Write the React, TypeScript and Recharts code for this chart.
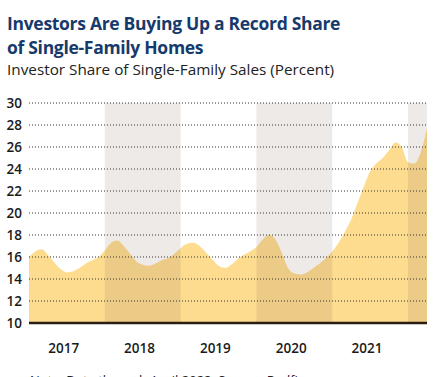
import React from "react";
import { AreaChart, Area, XAxis, YAxis, ReferenceArea, ReferenceLine } from "recharts";

// Monthly investor share of single-family sales, Jan 2017 .. Apr 2022
const months: number[] = Array.from({ length: 64 }, (_, i) => i);
const shareValues: number[] = [
  16.0, 16.5, 16.7, 16.2, 15.5, 14.9, 14.6, 14.7, 15.0, 15.4, 15.7, 16.0,
  16.6, 17.3, 17.5, 17.0, 16.3, 15.6, 15.3, 15.2, 15.4, 15.7, 15.9, 16.3,
  16.8, 17.2, 17.3, 17.0, 16.4, 15.8, 15.2, 15.0, 15.3, 15.8, 16.2, 16.5,
  16.9, 17.6, 18.0, 17.6, 16.4, 15.0, 14.5, 14.4, 14.6, 15.0, 15.4, 15.9,
  16.5, 17.3, 18.3, 19.4, 20.9, 22.4, 23.8, 24.5, 25.0, 25.7, 26.4, 26.0,
  24.6, 24.5, 25.5, 27.7,
];
const yearLabels: string[] = ["2017", "2018", "2019", "2020", "2021"];
const yearTickPositions: number[] = [5.5, 17.5, 29.5, 41.5, 53.5];
const yTicks: number[] = [10, 12, 14, 16, 18, 20, 22, 24, 26, 28, 30];
const shadedBands: [number, number][] = [
  [12, 24],
  [36, 48],
  [60, 63],
];

const data = months.map((m, i) => ({ m, share: shareValues[i] }));

const font = "'Open Sans', 'DejaVu Sans', sans-serif";

export default function App() {
  return (
    <div
      style={{
        position: "absolute",
        left: 0,
        top: 0,
        width: 442,
        height: 377,
        overflow: "hidden",
        background: "#fff",
        fontFamily: font,
      }}
    >
      <div
        style={{
          position: "absolute",
          left: 7,
          top: 11,
          fontSize: 17.5,
          fontWeight: 700,
          color: "#173a6c",
          lineHeight: "24px",
          letterSpacing: -0.3,
          whiteSpace: "nowrap",
        }}
      >
        Investors Are Buying Up a Record Share
        <br />
        of Single-Family Homes
      </div>
      <div
        style={{
          position: "absolute",
          left: 7,
          top: 59,
          fontSize: 15.3,
          color: "#222",
          whiteSpace: "nowrap",
        }}
      >
        Investor Share of Single-Family Sales (Percent)
      </div>
      <div style={{ position: "absolute", left: 0, top: 0 }}>
        <AreaChart
          width={442}
          height={377}
          data={data}
          margin={{ top: 103, right: 15, bottom: 0, left: 0 }}
        >
          <XAxis
            dataKey="m"
            type="number"
            domain={[0, 63]}
            ticks={yearTickPositions}
            tickFormatter={(v: number) => yearLabels[yearTickPositions.indexOf(v)] ?? ""}
            axisLine={false}
            tickLine={false}
            tickSize={0}
            tickMargin={20}
            height={54}
            interval={0}
            tick={{ fontSize: 13.5, fontWeight: 600, fill: "#1a1a1a", fontFamily: font }}
          />
          <YAxis
            type="number"
            domain={[10, 30]}
            ticks={yTicks}
            width={29}
            axisLine={false}
            tickLine={false}
            tickSize={0}
            tickMargin={7}
            interval={0}
            tick={{ fontSize: 13.5, fontWeight: 600, fill: "#1a1a1a", fontFamily: font }}
          />
          <Area
            dataKey="share"
            type="monotone"
            stroke="none"
            fill="#fddc90"
            fillOpacity={1}
            baseValue={10}
            isAnimationActive={false}
            zIndex={100}
          />
          {shadedBands.map(([a, b], i) => (
            <ReferenceArea
              key={"band" + i}
              x1={a}
              x2={b}
              y1={10}
              y2={30}
              fill="rgb(120,90,67)"
              fillOpacity={0.13}
              stroke="none"
              ifOverflow="visible"
              zIndex={150}
            />
          ))}
          {yTicks
            .filter((t) => t !== 10)
            .map((t) => (
              <ReferenceLine
                key={"g" + t}
                y={t}
                stroke="#333"
                strokeWidth={1}
                strokeDasharray="1 2"
                zIndex={160}
              />
            ))}
          <ReferenceLine y={10} stroke="#2a1e12" strokeWidth={2.5} zIndex={170} />
        </AreaChart>
      </div>
      <div
        style={{
          position: "absolute",
          left: 30,
          top: 371,
          fontSize: 13,
          color: "#222",
          whiteSpace: "nowrap",
        }}
      >
        Note: Data through April 2022. Source: Redfin.
      </div>
    </div>
  );
}
